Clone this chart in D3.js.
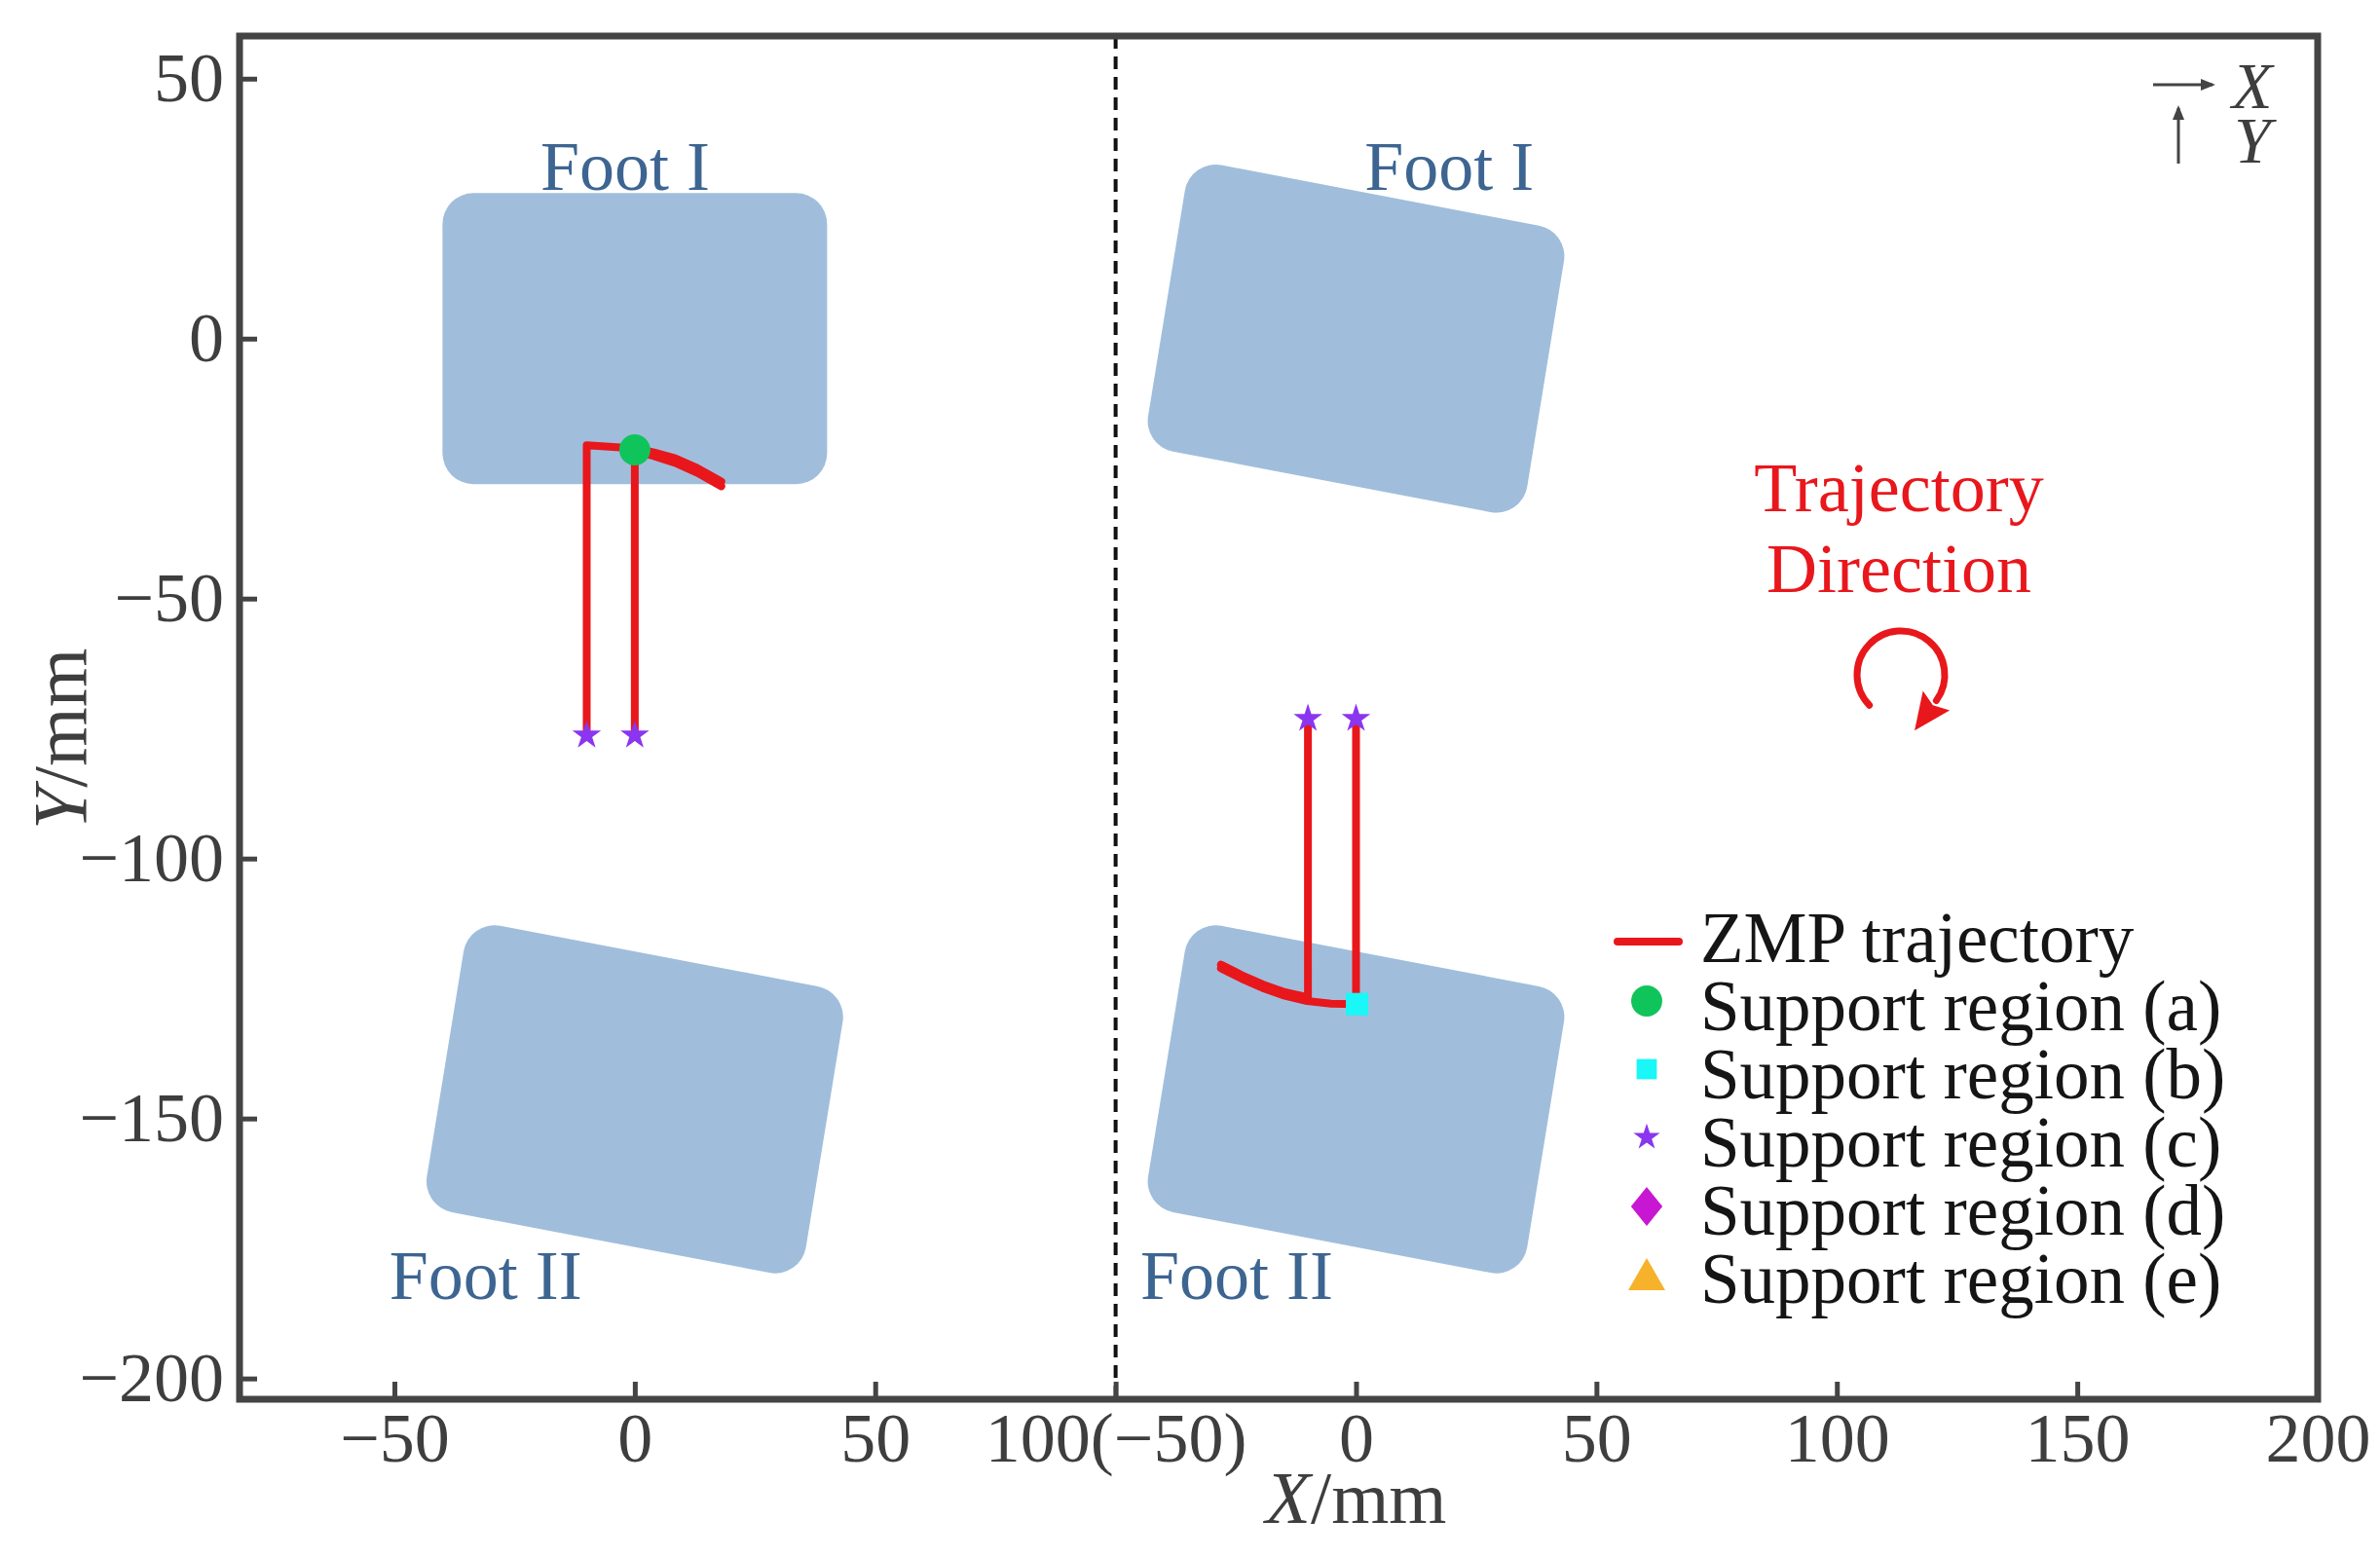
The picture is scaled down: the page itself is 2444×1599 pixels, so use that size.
<!DOCTYPE html>
<html>
<head>
  <style>
    body { margin: 0; background: white; }
    text { font-family: 'Liberation Serif', 'Times New Roman', serif; }
  </style>
</head>
<body>
  <script src="https://d3js.org/d3.v7.min.js"></script>
  <script>
    var width = 2444, height = 1599;

    // axis: one long X axis, right panel is shifted by 150 mm
    var panelShift = [0, 150];
    var xTickPos = [-50, 0, 50, 100, 150, 200, 250, 300, 350];
    var xTickLabels = ["\u221250", "0", "50", "100(\u221250)", "0", "50", "100", "150", "200"];
    var yTicks = [50, 0, -50, -100, -150, -200];

    // feet (rounded rectangles, mm)
    var footPanel = [0, 0, 1, 1];
    var footCx = [0, 0, 0, 0];
    var footCy = [0, -146.3, 0, -146.3];
    var footAngle = [0, -10, -10, -10];
    var footHalfL = 40, footHalfW = 28;
    var footLabels = ["Foot I", "Foot II", "Foot I", "Foot II"];
    var footLabelX = [-2, -31, 19.4, -24.8];
    var footLabelY = [28.6, -184.7, 28.6, -184.7];

    // ZMP trajectory pieces (two passes overlap on the curved parts)
    var trajPanel = [0, 0, 1, 1];
    var trajX = [
      [-10, -10, 0, 4, 8.4, 13, 18],
      [0, 0, 4, 8.4, 13, 18],
      [-10, -10, -14.8, -19.4, -23.8, -28.1],
      [0, 0, -5.2, -10.2, -14.8, -19.4, -23.8, -28.1]
    ];
    var trajY = [
      [-76.3, -20.5, -21.1, -21.9, -23.0, -24.9, -27.5],
      [-76.3, -21.6, -22.6, -23.9, -25.8, -28.4],
      [-73.1, -126.7, -125.7, -124.2, -122.4, -120.4],
      [-73.1, -128, -127.9, -127.4, -126.4, -124.9, -123.1, -121.1]
    ];

    // support-region markers
    var markType = ["circle", "square", "star", "star", "star", "star"];
    var markPanel = [0, 1, 0, 0, 1, 1];
    var markX = [0, 0.2, -10, 0, -10, 0];
    var markY = [-21.4, -128, -76.3, -76.3, -73.1, -73.1];

    var legendLabels = ["ZMP trajectory", "Support region (a)", "Support region (b)",
                        "Support region (c)", "Support region (d)", "Support region (e)"];
    var legendShapes = ["line", "circle", "square", "star", "diamond", "triangle"];

    var colors = {
      line: "#e8171c", circle: "#10c45c", square: "#19f7f7",
      star: "#8b35ef", diamond: "#c817d3", triangle: "#f7b22b"
    };

    var margin = {left: 246, right: 64, top: 37, bottom: 162};
    var x = d3.scaleLinear().domain([-82.2, 350]).range([margin.left, width - margin.right]);
    var y = d3.scaleLinear().domain([-204, 58.2]).range([height - margin.bottom, margin.top]);
    var px = (v, p) => x(v + panelShift[p]);

    var svg = d3.select("body").append("svg")
        .attr("width", width).attr("height", height);

    // feet
    function footPath(i) {
      var a = footAngle[i] * Math.PI / 180, c = Math.cos(a), s = Math.sin(a);
      var local = [[-footHalfL, footHalfW], [footHalfL, footHalfW], [footHalfL, -footHalfW], [-footHalfL, -footHalfW]];
      var pts = local.map(d => [
        px(footCx[i] + d[0] * c - d[1] * s, footPanel[i]),
        y(footCy[i] + d[0] * s + d[1] * c)
      ]);
      var p = d3.path(), n = pts.length;
      var m = [(pts[n - 1][0] + pts[0][0]) / 2, (pts[n - 1][1] + pts[0][1]) / 2];
      p.moveTo(m[0], m[1]);
      for (var k = 0; k < n; k++) {
        var cur = pts[k], nxt = pts[(k + 1) % n];
        p.arcTo(cur[0], cur[1], nxt[0], nxt[1], 32);
      }
      p.closePath();
      return p.toString();
    }

    svg.selectAll("path.foot")
        .data(footPanel)
      .enter().append("path")
        .attr("class", "foot")
        .attr("d", (d, i) => footPath(i))
        .attr("fill", "#a0bedc");

    svg.selectAll("text.footlabel")
        .data(footLabels)
      .enter().append("text")
        .attr("class", "footlabel")
        .attr("x", (d, i) => px(footLabelX[i], footPanel[i]))
        .attr("y", (d, i) => y(footLabelY[i]))
        .attr("text-anchor", "middle")
        .attr("font-size", 72)
        .attr("fill", "#3d6591")
        .text(d => d);

    // dashed divider
    svg.append("line")
        .attr("x1", x(100)).attr("x2", x(100))
        .attr("y1", margin.top).attr("y2", height - margin.bottom)
        .attr("stroke", "#111").attr("stroke-width", 4)
        .attr("stroke-dasharray", "13,8");

    // trajectories
    var line = d3.line();
    svg.selectAll("path.traj")
        .data(trajPanel)
      .enter().append("path")
        .attr("class", "traj")
        .attr("d", (p, i) => line(trajX[i].map((v, k) => [px(v, p), y(trajY[i][k])])))
        .attr("fill", "none")
        .attr("stroke", colors.line)
        .attr("stroke-width", 8)
        .attr("stroke-linejoin", "round")
        .attr("stroke-linecap", "round");

    var symbolOf = {circle: d3.symbolCircle, square: d3.symbolSquare, star: d3.symbolStar};
    var sizeOf = {circle: 800, square: 530, star: 270};
    svg.selectAll("path.mark")
        .data(markType)
      .enter().append("path")
        .attr("class", "mark")
        .attr("transform", (t, i) => "translate(" + px(markX[i], markPanel[i]) + "," + y(markY[i]) + ")")
        .attr("d", t => d3.symbol(symbolOf[t], sizeOf[t])())
        .attr("fill", t => colors[t]);

    // axes
    var xAxis = d3.axisBottom(x)
        .tickValues(xTickPos)
        .tickFormat((d, i) => xTickLabels[i])
        .tickSizeInner(-18).tickSizeOuter(0).tickPadding(13);
    var gx = svg.append("g")
        .attr("transform", "translate(0," + (height - margin.bottom) + ")")
        .call(xAxis);

    var yAxis = d3.axisLeft(y)
        .tickValues(yTicks)
        .tickFormat(d => d < 0 ? "\u2212" + Math.abs(d) : d)
        .tickSizeInner(-18).tickSizeOuter(0).tickPadding(16);
    var gy = svg.append("g")
        .attr("transform", "translate(" + margin.left + ",0)")
        .call(yAxis);

    [gx, gy].forEach(g => {
      g.select(".domain").remove();
      g.selectAll(".tick line").attr("stroke", "#444").attr("stroke-width", 5);
      g.selectAll(".tick text")
          .attr("font-family", "'Liberation Serif', serif")
          .attr("font-size", 72)
          .attr("fill", "#3e3e3e");
    });

    // frame
    svg.append("rect")
        .attr("x", margin.left).attr("y", margin.top)
        .attr("width", width - margin.left - margin.right)
        .attr("height", height - margin.top - margin.bottom)
        .attr("fill", "none")
        .attr("stroke", "#444").attr("stroke-width", 7);

    // axis titles
    var xt = svg.append("text")
        .attr("x", x(150)).attr("y", 1564)
        .attr("text-anchor", "middle")
        .attr("font-size", 76).attr("fill", "#3e3e3e");
    xt.append("tspan").attr("font-style", "italic").text("X");
    xt.append("tspan").text("/mm");

    var yt = svg.append("text")
        .attr("transform", "translate(88," + y(-77) + ") rotate(-90)")
        .attr("text-anchor", "middle")
        .attr("font-size", 78).attr("fill", "#3e3e3e");
    yt.append("tspan").attr("font-style", "italic").text("Y");
    yt.append("tspan").text("/mm");

    // direction indicator (top right)
    var defs = svg.append("defs");
    defs.append("marker")
        .attr("id", "head").attr("viewBox", "0 0 10 10")
        .attr("refX", 8).attr("refY", 5)
        .attr("markerWidth", 5).attr("markerHeight", 5)
        .attr("orient", "auto")
      .append("path").attr("d", "M0,1L10,5L0,9Z").attr("fill", "#444");

    var ind = svg.append("g");
    ind.append("line")
        .attr("x1", 2211).attr("y1", 87).attr("x2", 2272).attr("y2", 87)
        .attr("stroke", "#444").attr("stroke-width", 3).attr("marker-end", "url(#head)");
    ind.append("line")
        .attr("x1", 2237).attr("y1", 168).attr("x2", 2237).attr("y2", 111)
        .attr("stroke", "#444").attr("stroke-width", 3).attr("marker-end", "url(#head)");
    ind.append("text").attr("x", 2292).attr("y", 111)
        .attr("font-size", 68).attr("font-style", "italic").attr("fill", "#3e3e3e").text("X");
    ind.append("text").attr("x", 2294).attr("y", 167)
        .attr("font-size", 68).attr("font-style", "italic").attr("fill", "#3e3e3e").text("Y");

    // trajectory direction note
    var note = svg.append("g").attr("fill", colors.line);
    note.append("text").attr("x", 1950).attr("y", 525)
        .attr("text-anchor", "middle").attr("font-size", 72).text("Trajectory");
    note.append("text").attr("x", 1950).attr("y", 608)
        .attr("text-anchor", "middle").attr("font-size", 72).text("Direction");

    var cx = 1952, cy = 693, r = 45;
    var a0 = 136 * Math.PI / 180, a1 = 396 * Math.PI / 180;
    var arc = d3.path();
    arc.arc(cx, cy, r, a0, a1, false);
    note.append("path").attr("d", arc.toString())
        .attr("fill", "none").attr("stroke", colors.line)
        .attr("stroke-width", 7).attr("stroke-linecap", "round");
    var ex = cx + r * Math.cos(a1), ey = cy + r * Math.sin(a1);
    var tx = -Math.sin(a1), ty = Math.cos(a1), nx = Math.cos(a1), ny = Math.sin(a1);
    note.append("path")
        .attr("d", "M" + (ex + tx * 38) + "," + (ey + ty * 38) +
                   "L" + (ex + nx * 17) + "," + (ey + ny * 17) +
                   "L" + (ex + tx * 6) + "," + (ey + ty * 6) +
                   "L" + (ex - nx * 17) + "," + (ey - ny * 17) + "Z");

    // legend
    var legend = svg.append("g").attr("transform", "translate(1691,988)");
    var rows = legend.selectAll("g")
        .data(legendLabels)
      .enter().append("g")
        .attr("transform", (d, i) => "translate(0," + (i * 70) + ")");

    rows.append("text")
        .attr("x", 55).attr("y", 0)
        .attr("font-size", 73).attr("fill", "#151515")
        .text(d => d);

    rows.each(function (d, i) {
      var g = d3.select(this), t = legendShapes[i], c = colors[t];
      if (t === "line") {
        g.append("line").attr("x1", -30).attr("x2", 33).attr("y1", -21).attr("y2", -21)
            .attr("stroke", c).attr("stroke-width", 8).attr("stroke-linecap", "round");
      } else if (t === "diamond") {
        g.append("path").attr("transform", "translate(0,-29) scale(1.4,1)")
            .attr("d", d3.symbol(d3.symbolDiamond, 462)()).attr("fill", c);
      } else if (t === "triangle") {
        g.append("path").attr("transform", "translate(0,-24)")
            .attr("d", d3.symbol(d3.symbolTriangle, 625)()).attr("fill", c);
      } else {
        var sz = {circle: 800, square: 430, star: 230}[t];
        g.append("path").attr("transform", "translate(0,-30)")
            .attr("d", d3.symbol(symbolOf[t], sz)()).attr("fill", c);
      }
    });
  </script>
</body>
</html>
